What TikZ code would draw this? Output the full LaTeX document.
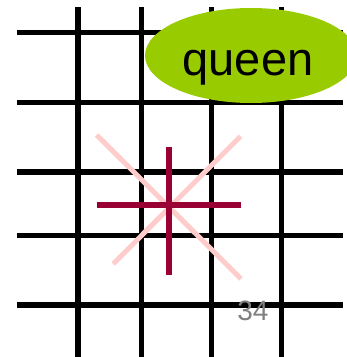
\documentclass[tikz,border=0pt]{standalone}
\usepackage{fontspec}
\setmainfont{Liberation Sans}
\usetikzlibrary{shapes.geometric}
\definecolor{qgreen}{HTML}{99CC00}
\definecolor{qred}{HTML}{990033}
\definecolor{qpink}{HTML}{FFCCCC}
\definecolor{qgray}{HTML}{808080}
\begin{document}
\begin{tikzpicture}[x=1pt,y=-1pt,
  gridline/.style={black,line width=5.5pt},
  attack/.style={qpink,line width=5pt},
  move/.style={qred,line width=6pt}]
\useasboundingbox (0,0) rectangle (347,357);
% grid
\foreach \x in {78,141.7,211.7,281.7} \draw[gridline] (\x,7) -- (\x,357);
\foreach \y in {32.7,102.3,172,235.3,305} \draw[gridline] (16.7,\y) -- (343,\y);
% diagonals
\draw[attack] (96.7,135) -- (241,278.8);
\draw[attack] (240.5,136.3) -- (113.3,263.8);
% cross
\draw[move] (97,205.3) -- (240.7,205.3);
\draw[move] (169.3,146.7) -- (169.3,274.5);
% queen
\fill[qgreen] (251,55.5) ellipse [x radius=106, y radius=47.5];
\node[anchor=base,font=\fontsize{47}{50}\selectfont,inner sep=0pt] (queen) at (248,75) {queen};
% number
\node[anchor=base,font=\fontsize{28}{30}\selectfont,text=qgray,inner sep=0pt] (num) at (253,320) {34};
\end{tikzpicture}
\end{document}
